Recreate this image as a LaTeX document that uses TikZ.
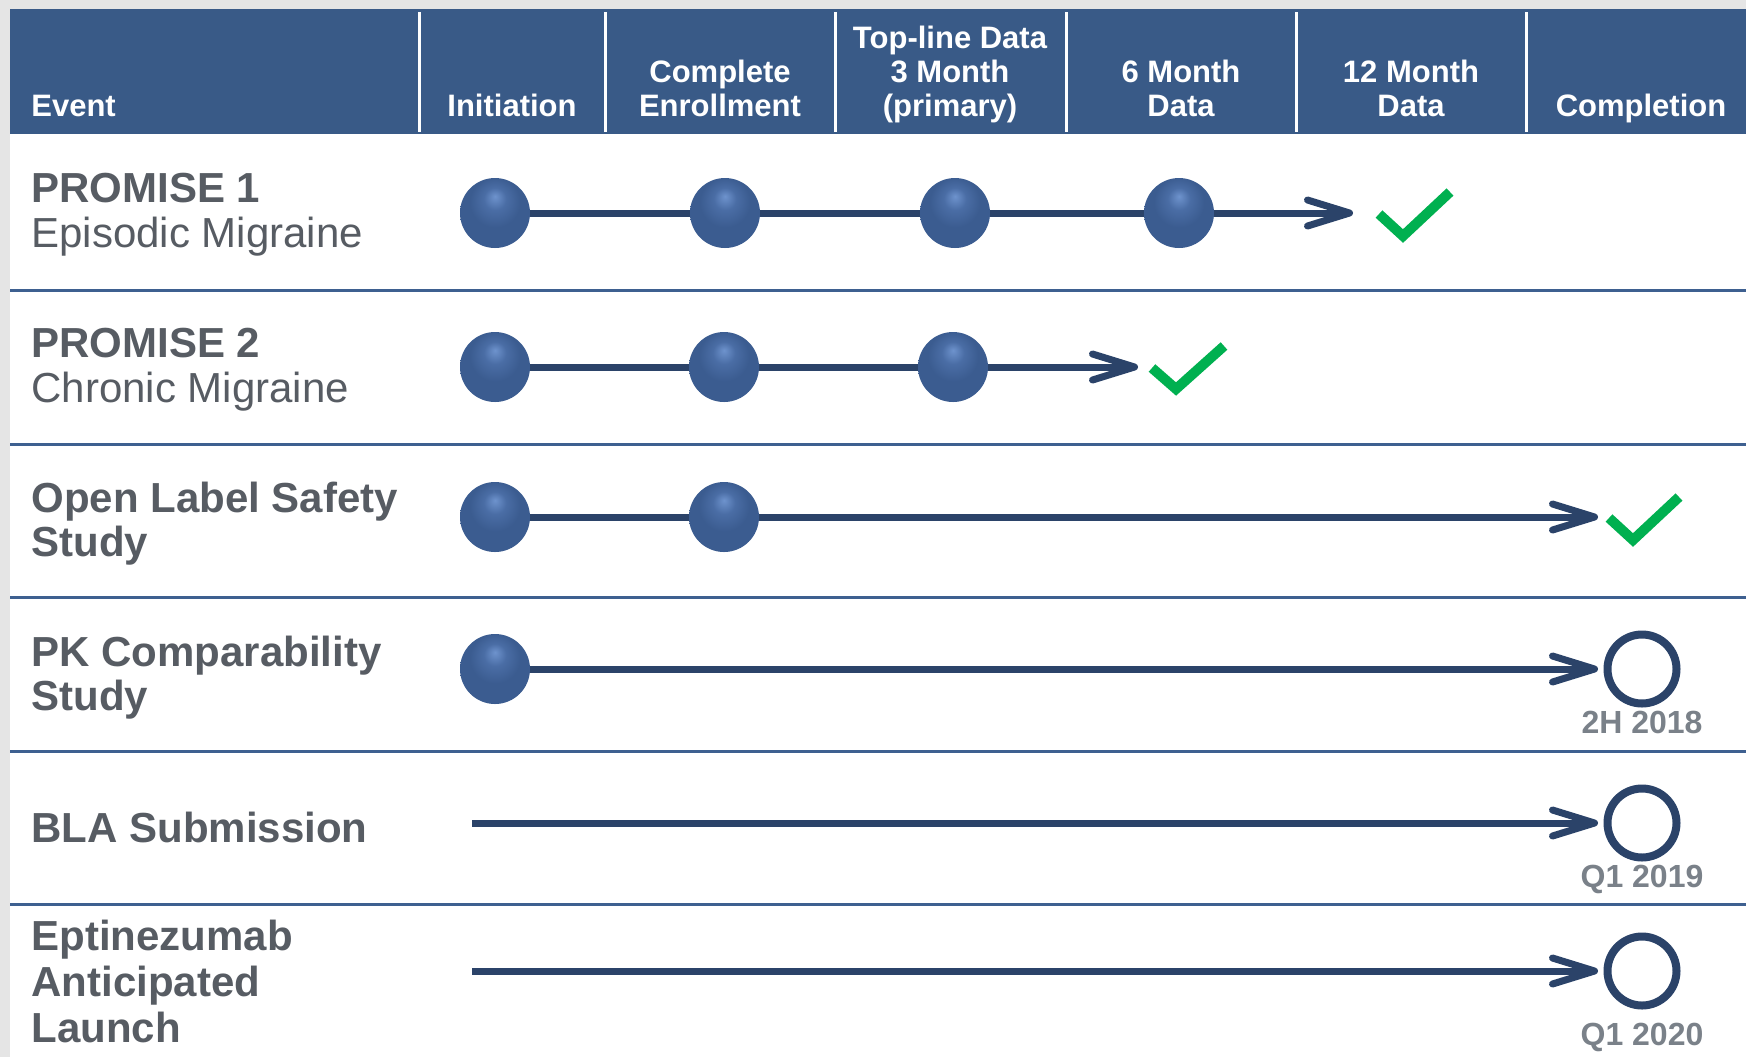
\documentclass[tikz,border=0pt]{standalone}
\usepackage{fontspec}
\setmainfont{Liberation Sans}
\usetikzlibrary{arrows.meta}
\definecolor{hdrblue}{HTML}{395A87}
\definecolor{rowline}{HTML}{3E6090}
\definecolor{navy}{HTML}{2B4369}
\definecolor{txtgray}{HTML}{575C63}
\definecolor{dategray}{HTML}{7A8189}
\definecolor{okgreen}{HTML}{00B050}
\definecolor{orbhi}{HTML}{6E93CD}
\definecolor{orbmid}{HTML}{4A6DA5}
\definecolor{orbbase}{HTML}{3B5C90}
\definecolor{orbrim}{HTML}{2F4B78}
\pgfdeclareradialshading{orb}{\pgfpoint{0bp}{12bp}}{color(0bp)=(orbhi); color(8bp)=(orbmid); color(18bp)=(orbbase); color(29bp)=(orbbase); color(34bp)=(orbrim); color(50bp)=(orbrim)}
\tikzset{>={Straight Barb[length=21pt,width=13pt,line cap=round,line join=round]}}

\begin{document}
\begin{tikzpicture}[x=0.5pt,y=-0.5pt,
  hdr/.style={text=white,font=\fontsize{15.5}{17}\selectfont\bfseries,align=center,anchor=base,inner sep=0pt},
  evt/.style={text=txtgray,font=\fontsize{21}{22.5}\selectfont,align=left,anchor=base west,inner sep=0pt},
  milestone/.style={circle,minimum size=35pt,inner sep=0pt,shade,shading=orb},
  target/.style={circle,draw=navy,line width=4pt,minimum size=34.5pt,inner sep=0pt},
  track/.style={draw=navy,line width=3.5pt},
  okmark/.style={draw=okgreen,line width=5pt},
  datelbl/.style={text=dategray,font=\fontsize{16}{18}\selectfont\bfseries,anchor=base,inner sep=0pt}]

\useasboundingbox (0,0) rectangle (1746,1057);
\fill[black!10] (0,0) rectangle (1746,1057);
\fill[white] (10,9) rectangle (1746,1057);
\fill[hdrblue] (10,9) rectangle (1746,134);
\foreach \x in {419,605,835,1066,1296,1526}
  \draw[white,line width=1.5pt] (\x,12) -- (\x,132);
\foreach \y in {290,444,597,751,904}
  \draw[rowline,line width=1.5pt] (10,\y) -- (1746,\y);

\node[hdr,anchor=base west] (hevent) at (31,116) {Event};
\node[hdr] (hinit) at (512,116) {Initiation};
\node[hdr] (henroll) at (720,116) {Complete\\Enrollment};
\node[hdr] (htop) at (950,116) {Top-line Data\\3 Month\\(primary)};
\node[hdr] (hsix) at (1181,116) {6 Month\\Data};
\node[hdr] (htwelve) at (1411,116) {12 Month\\Data};
\node[hdr] (hdone) at (1641,116) {Completion};

% PROMISE 1
\node[evt] (ev1) at (31,247) {\textbf{PROMISE 1}\\Episodic Migraine};
\node[milestone] (p1a) at (495,213) {};
\node[milestone] (p1b) at (725,213) {};
\node[milestone] (p1c) at (955,213) {};
\node[milestone] (p1d) at (1179,213) {};
\coordinate (e1) at (1353,213);
\draw[track] (p1a) -- (p1b);
\draw[track] (p1b) -- (p1c);
\draw[track] (p1c) -- (p1d);
\draw[track,->] (p1d) -- (e1);
\coordinate (v1) at (1403,236);
\draw[okmark] (v1) ++(-24,-22) -- (v1) -- ++(47,-44);

% PROMISE 2
\node[evt] (ev2) at (31,402) {\textbf{PROMISE 2}\\Chronic Migraine};
\node[milestone] (p2a) at (495,367) {};
\node[milestone] (p2b) at (724,367) {};
\node[milestone] (p2c) at (953,367) {};
\coordinate (e2) at (1138,367);
\draw[track] (p2a) -- (p2b);
\draw[track] (p2b) -- (p2c);
\draw[track,->] (p2c) -- (e2);
\coordinate (v2) at (1176,389);
\draw[okmark] (v2) ++(-24,-21) -- (v2) -- ++(48,-43);

% open label
\node[evt,font=\fontsize{21}{22}\selectfont\bfseries] (ev3) at (31,556) {Open Label Safety\\Study};
\node[milestone] (p3a) at (495,517) {};
\node[milestone] (p3b) at (724,517) {};
\coordinate (e3) at (1598,517);
\draw[track] (p3a) -- (p3b);
\draw[track,->] (p3b) -- (e3);
\coordinate (v3) at (1633,540);
\draw[okmark] (v3) ++(-24,-22) -- (v3) -- ++(46,-43);

% PK
\node[evt,font=\fontsize{21}{22}\selectfont\bfseries] (ev4) at (31,710) {PK Comparability\\Study};
\node[milestone] (p4a) at (495,669) {};
\node[target] (t4) at (1642,669) {};
\draw[track,->,shorten >=2.75pt] (p4a) -- (t4);
\node[datelbl] (d4) at (1642,733) {2H 2018};

% BLA
\node[evt,font=\fontsize{21}{22}\selectfont\bfseries] (ev5) at (31,842) {BLA Submission};
\coordinate (s5) at (472,823);
\node[target] (t5) at (1642,823) {};
\draw[track,->,shorten >=2.75pt] (s5) -- (t5);
\node[datelbl] (d5) at (1642,887) {Q1 2019};

% launch
\node[evt,font=\fontsize{21}{23}\selectfont\bfseries] (ev6) at (31,1042) {Eptinezumab\\Anticipated\\Launch};
\coordinate (s6) at (472,971);
\node[target] (t6) at (1642,971) {};
\draw[track,->,shorten >=2.75pt] (s6) -- (t6);
\node[datelbl] (d6) at (1642,1045) {Q1 2020};

\end{tikzpicture}
\end{document}
